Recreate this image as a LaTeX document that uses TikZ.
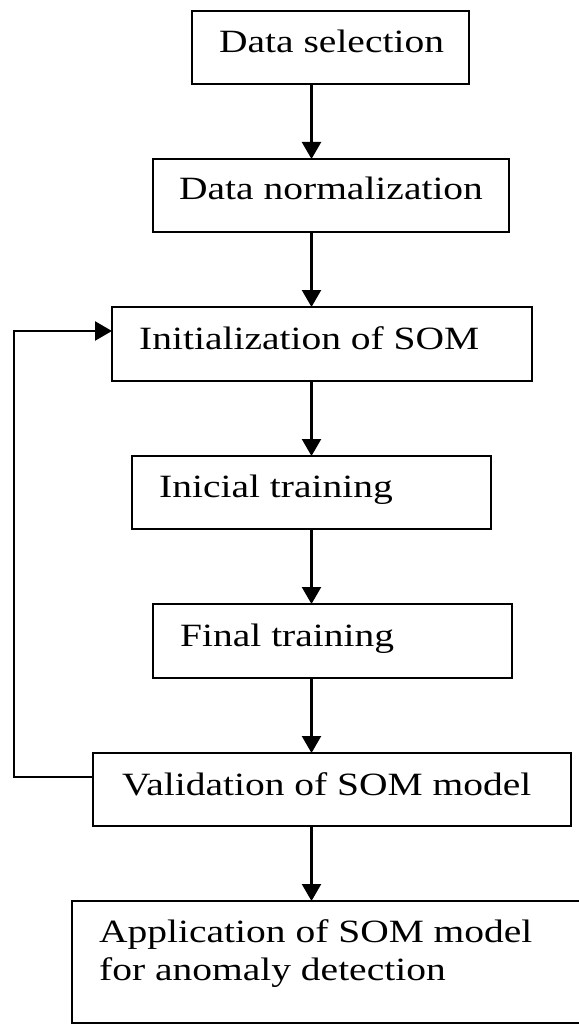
\documentclass[tikz,border=0pt]{standalone}
\usepackage{fontspec}
\setmainfont{Liberation Serif}
\usetikzlibrary{arrows.meta}
% widen the lettering horizontally
\newcommand\widetext[1]{\scalebox{1.215}[1]{#1}}
\begin{document}
\begin{tikzpicture}[x=1pt,y=-1pt,
  box/.style={draw, line width=2.3pt, inner sep=0pt, outer sep=0pt},
  txt/.style={anchor=base west, inner sep=0pt, font=\fontsize{32.5}{38}\selectfont},
  arr/.style={line width=2.3pt, -{Triangle[width=19pt,length=17pt]}}]
\useasboundingbox (0,0) rectangle (578,1024);

% process boxes
\node[box, minimum width=277pt, minimum height=73pt] (b1) at (330.5,47.5) {};
\node[box, minimum width=356pt, minimum height=73pt] (b2) at (331,195.5) {};
\node[box, minimum width=420pt, minimum height=74pt] (b3) at (322,344) {};
\node[box, minimum width=359pt, minimum height=73pt] (b4) at (311.5,492.5) {};
\node[box, minimum width=359pt, minimum height=74pt] (b5) at (332.5,641) {};
\node[box, minimum width=478pt, minimum height=73pt] (b6) at (332,789.5) {};
\node[box, minimum width=520pt, minimum height=122pt] (b7) at (332,962) {};

% labels
\node[txt] (t1) at (219,53) {\widetext{Data selection}};
\node[txt] (t2) at (179,200) {\widetext{Data normalization}};
\node[txt] (t3) at (139,349) {\widetext{Initialization of SOM}};
\node[txt] (t4) at (159,497) {\widetext{Inicial training}};
\node[txt] (t5) at (180,646) {\widetext{Final training}};
\node[txt] (t6) at (122,795) {\widetext{Validation of SOM model}};
\node[txt] (t7a) at (99,942) {\widetext{Application of SOM model}};
\node[txt] (t7b) at (99,980) {\widetext{for anomaly detection}};

% main flow
\coordinate (ax) at (311.5,0);
\draw[arr] (b1.south -| ax) -- (b2.north -| ax);
\draw[arr] (b2.south -| ax) -- (b3.north -| ax);
\draw[arr] (b3.south -| ax) -- (b4.north -| ax);
\draw[arr] (b4.south -| ax) -- (b5.north -| ax);
\draw[arr] (b5.south -| ax) -- (b6.north -| ax);
\draw[arr] (b6.south -| ax) -- (b7.north -| ax);

% feedback loop from validation back to initialization
\coordinate (fb1) at (14,777);
\coordinate (fb2) at (14,331);
\draw[arr] (b6.west |- fb1) -- (fb1) -- (fb2) -- (b3.west |- fb2);
\end{tikzpicture}
\end{document}
